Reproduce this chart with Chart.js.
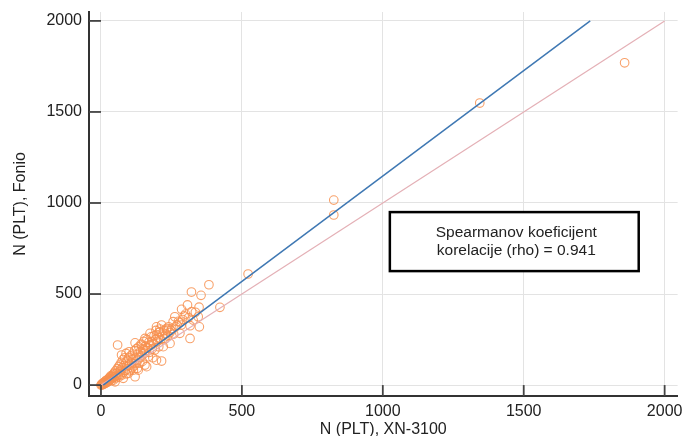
<!DOCTYPE html>
<html>
<head>
<meta charset="utf-8">
<script src="https://cdn.jsdelivr.net/npm/chart.js@4"></script>
<style>
  html, body { margin: 0; padding: 0; background: #fff; }
  #wrap { width: 683px; height: 436px; }
</style>
</head>
<body>
<div id="wrap"><canvas id="c" width="683" height="436"></canvas></div>
<script>
// ---- data ----
const xValues = [0,2,4,5,7,8,10,12,13,15,17,18,20,22,24,25,27,29,30,32,34,35,37,38,40,42,44,45,46,48,50,50,52,54,56,58,59,60,62,64,65,67,69,70,72,73,74,76,78,79,80,82,84,86,88,89,90,91,93,95,97,98,100,101,103,105,107,109,110,112,114,115,117,119,121,121,122,124,126,127,129,131,132,134,136,138,140,142,144,145,147,149,150,152,154,156,156,158,160,162,163,165,168,170,172,174,176,178,180,182,184,186,188,191,193,195,197,197,197,200,203,205,207,209,209,212,215,215,218,221,224,227,230,233,233,237,240,245,245,248,251,256,258,262,265,270,275,280,280,285,286,290,295,300,307,310,316,316,321,322,327,335,345,348,349,355,383,422,522,826,826,1344,1858];
const yValues = [0,4,1,8,3,12,6,15,9,20,11,25,14,28,18,33,22,38,27,44,30,50,24,46,36,55,27,62,42,70,18,48,78,40,64,90,220,52,100,45,72,110,60,85,125,165,55,95,140,37,70,108,150,80,120,174,62,101,135,88,64,150,183,110,78,160,125,119,95,170,140,82,105,190,232,46,150,118,200,137,92,170,82,210,150,120,185,225,220,160,130,200,192,240,175,110,256,215,190,101,250,205,156,235,180,284,220,265,238,200,150,229,270,192,250,300,137,275,320,240,260,210,290,293,308,250,132,330,275,211,300,253,280,302,311,270,320,229,289,300,311,348,280,375,320,330,350,284,344,330,416,360,380,390,440,370,256,326,511,403,357,400,375,428,320,493,551,427,610,1016,934,1549,1770];
const identityX = [0, 2000];
const identityY = [0, 2000];
const fitX = [8, 1736];
const fitY = [0, 2000];
const tickValues = [0, 500, 1000, 1500, 2000];
const xTitle = 'N (PLT), XN-3100';
const yTitle = 'N (PLT), Fonio';
const noteLines = ['Spearmanov koeficijent', 'korelacije (rho) = 0.941'];
const noteBox = { x0: 1025, x1: 1908, y0: 950, y1: 626 }; // data coordinates

const FONT = '"Liberation Sans", Arial, sans-serif';
const toPts = (xs, ys) => xs.map((x, i) => ({ x: x, y: ys[i] }));

const decor = {
  id: 'decor',
  afterDraw(chart) {
    const { ctx, scales: { x, y }, chartArea: a } = chart;
    ctx.save();
    // inward ticks
    ctx.strokeStyle = '#444';
    ctx.lineWidth = 1.8;
    const x0 = x.getPixelForValue(0), y0 = y.getPixelForValue(0);
    tickValues.forEach(v => {
      const py = y.getPixelForValue(v);
      ctx.beginPath(); ctx.moveTo(a.left, py); ctx.lineTo(x0, py); ctx.stroke();
      const px = x.getPixelForValue(v);
      ctx.beginPath(); ctx.moveTo(px, a.bottom); ctx.lineTo(px, y0); ctx.stroke();
    });
    // annotation box
    const bx0 = x.getPixelForValue(noteBox.x0), bx1 = x.getPixelForValue(noteBox.x1);
    const by0 = y.getPixelForValue(noteBox.y0), by1 = y.getPixelForValue(noteBox.y1);
    ctx.fillStyle = '#fff';
    ctx.fillRect(bx0, by0, bx1 - bx0, by1 - by0);
    ctx.strokeStyle = '#000';
    ctx.lineWidth = 2.5;
    ctx.strokeRect(bx0, by0, bx1 - bx0, by1 - by0);
    ctx.fillStyle = '#222';
    ctx.font = '15.5px ' + FONT;
    ctx.textAlign = 'center';
    ctx.textBaseline = 'middle';
    const cx = (bx0 + bx1) / 2 + 2, cy = (by0 + by1) / 2;
    ctx.fillText(noteLines[0], cx, cy - 8.5);
    ctx.fillText(noteLines[1], cx, cy + 9);
    ctx.restore();
  }
};

new Chart(document.getElementById('c'), {
  type: 'scatter',
  data: {
    datasets: [
      {
        label: 'fit',
        type: 'line',
        data: toPts(fitX, fitY),
        borderColor: '#3f78b3',
        borderWidth: 1.5,
        pointRadius: 0,
        fill: false,
        order: 1
      },
      {
        label: 'identity',
        type: 'line',
        data: toPts(identityX, identityY),
        borderColor: '#e4b0b6',
        borderWidth: 1.2,
        pointRadius: 0,
        fill: false,
        order: 2
      },
      {
        label: 'points',
        data: toPts(xValues, yValues),
        pointStyle: 'circle',
        pointRadius: 4.3,
        pointBorderWidth: 1.1,
        pointBorderColor: 'rgba(247,145,80,0.85)',
        pointBackgroundColor: 'rgba(0,0,0,0)',
        order: 3
      }
    ]
  },
  options: {
    responsive: false,
    animation: false,
    devicePixelRatio: 1,
    layout: { padding: { left: 0, right: 5, top: 12, bottom: 0 } },
    plugins: { legend: { display: false }, tooltip: { enabled: false } },
    scales: {
      x: {
        type: 'linear',
        min: -42.5,
        max: 2046,
        afterBuildTicks: s => { s.ticks = tickValues.map(v => ({ value: v })); },
        afterFit: s => { s.height = 40; s.paddingLeft = 0; s.paddingRight = 0; },
        ticks: { autoSkip: false, maxRotation: 0, padding: 6, color: '#222', font: { family: FONT, size: 16 },
                 callback: v => String(v) },
        grid: { color: '#e3e3e3', lineWidth: 1, drawTicks: false },
        border: { display: true, color: '#333', width: 2 },
        title: { display: true, text: xTitle, color: '#222', font: { family: FONT, size: 16 }, padding: { top: 0, bottom: -3 } }
      },
      y: {
        type: 'linear',
        min: -60,
        max: 2049,
        afterBuildTicks: s => { s.ticks = tickValues.map(v => ({ value: v })); },
        afterFit: s => { s.width = 89; s.paddingTop = 0; s.paddingBottom = 0; },
        ticks: { autoSkip: false, padding: 7, color: '#222', font: { family: FONT, size: 16 },
                 callback: v => String(v) },
        grid: { color: '#e3e3e3', lineWidth: 1, drawTicks: false },
        border: { display: true, color: '#333', width: 2 },
        title: { display: true, text: yTitle, color: '#222', font: { family: FONT, size: 16 }, padding: { top: 11, bottom: 0 } }
      }
    }
  },
  plugins: [decor]
});
</script>
</body>
</html>
